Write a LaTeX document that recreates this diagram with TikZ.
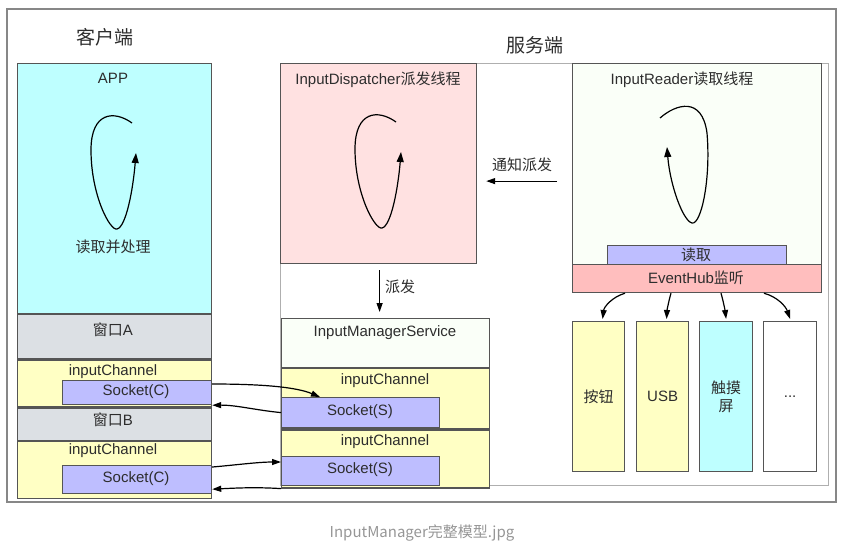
\documentclass[tikz,border=0pt]{standalone}
\usepackage{fontspec}
\setmainfont{Liberation Sans}
\newfontfamily\cjk{Noto Sans CJK SC}
\usetikzlibrary{calc, arrows.meta}

\definecolor{appCyan}{RGB}{190,255,255}
\definecolor{winGray}{RGB}{220,224,228}
\definecolor{chanYellow}{RGB}{255,255,196}
\definecolor{sockBlue}{RGB}{190,190,255}
\definecolor{dispPink}{RGB}{255,225,225}
\definecolor{hubPink}{RGB}{255,190,190}
\definecolor{paleWhite}{RGB}{250,255,248}
\definecolor{lineGray}{RGB}{85,85,85}
\definecolor{textDark}{RGB}{45,45,45}
\definecolor{frameGray}{RGB}{135,135,135}
\definecolor{serverGray}{RGB}{175,175,175}
\definecolor{captionGray}{RGB}{150,150,150}

\begin{document}
\begin{tikzpicture}[x=1pt, y=-1pt,
    box/.style={draw=lineGray, line width=1.2pt, rectangle, inner sep=0pt, anchor=north west},
    txt/.style={text=textDark, inner sep=0pt, font=\fontsize{15}{18}\selectfont},
    title/.style={text=textDark, inner sep=0pt, font=\fontsize{19}{22}\selectfont\cjk},
    flow/.style={-{Triangle[length=9pt,width=6pt]}, line width=1.2pt},
    cycle/.style={-{Triangle[length=10pt,width=7pt]}, line width=1.2pt}]

    \useasboundingbox (0,0) rectangle (856,558);

    % Frames
    \draw[line width=2pt, frameGray] (7,9) rectangle (836,502);
    \draw[line width=1pt, serverGray] (280,63) rectangle (828,485);

    \node[title] (client) at (105,37) {客户端};
    \node[title] (server) at (535,45) {服务端};

    % Client side
    \node[box, fill=appCyan, minimum width=194pt, minimum height=250pt] (app) at (17,63) {};
    \node[box, fill=winGray, minimum width=194pt, minimum height=44pt] (winA) at (app.south west) {};
    \node[box, fill=chanYellow, minimum width=194pt, minimum height=47pt] (chanA) at (winA.south west) {};
    \node[box, fill=sockBlue, minimum width=149pt, minimum height=24pt] (sockA) at (62,380) {};
    \node[box, fill=winGray, minimum width=194pt, minimum height=32pt] (winB) at (chanA.south west) {};
    \node[box, fill=chanYellow, minimum width=194pt, minimum height=57pt] (chanB) at (winB.south west) {};
    \node[box, fill=sockBlue, minimum width=149pt, minimum height=28pt] (sockB) at (62,465) {};

    \node[txt] (appT) at (113,78) {APP};
    \node[txt] (appLoopT) at (113,247) {\cjk 读取并处理};
    \node[txt] (winAT) at (113,330) {{\cjk 窗口}A};
    \node[txt] (chanAT) at (113,372) {inputChannel};
    \node[txt] (sockAT) at (136,392) {Socket(C)};
    \node[txt] (winBT) at (113,420) {{\cjk 窗口}B};
    \node[txt] (chanBT) at (113,451) {inputChannel};
    \node[txt] (sockBT) at (136,479) {Socket(C)};

    \draw[cycle] (132,123) .. controls (114,110) and (91,112) .. (91,150)
        .. controls (91,195) and (110,231) .. (117,229)
        .. controls (126,227) and (133,190) .. (136,153);

    % Dispatcher
    \node[box, fill=dispPink, minimum width=196pt, minimum height=200pt] (disp) at (280,63) {};
    \node[txt] (dispT) at (378,80) {InputDispatcher{\cjk 派发线程}};
    \draw[cycle] (396,122) .. controls (378,109) and (355,111) .. (355,149)
        .. controls (355,194) and (375,230) .. (382,228)
        .. controls (391,226) and (398,189) .. (401,152);

    % InputManagerService
    \node[box, fill=paleWhite, minimum width=208pt, minimum height=49pt] (ims) at (281,318) {};
    \node[box, fill=chanYellow, minimum width=208pt, minimum height=60pt] (chanS1) at (ims.south west) {};
    \node[box, fill=sockBlue, minimum width=158pt, minimum height=30pt] (sockS1) at (281,397) {};
    \node[box, fill=chanYellow, minimum width=208pt, minimum height=58pt] (chanS2) at (chanS1.south west) {};
    \node[box, fill=sockBlue, minimum width=158pt, minimum height=29pt] (sockS2) at (281,456) {};

    \node[txt] (imsT) at (385,333) {InputManagerService};
    \node[txt] (chanS1T) at (385,381) {inputChannel};
    \node[txt] (sockS1T) at (360,412) {Socket(S)};
    \node[txt] (chanS2T) at (385,442) {inputChannel};
    \node[txt] (sockS2T) at (360,470) {Socket(S)};

    % Reader
    \node[box, fill=paleWhite, minimum width=249pt, minimum height=229pt] (reader) at (572,63) {};
    \node[box, fill=sockBlue, minimum width=179pt, minimum height=19pt] (readBar) at (607,245) {};
    \node[box, fill=hubPink, minimum width=249pt, minimum height=28pt] (evh) at (572,264) {};
    \node[txt] (readerT) at (682,80) {InputReader{\cjk 读取线程}};
    \node[txt] (readBarT) at (696,255) {\cjk 读取};
    \node[txt] (evhT) at (696,278) {EventHub{\cjk 监听}};
    \draw[cycle] (660,118) .. controls (676,104) and (702,96) .. (707,133)
        .. controls (711,180) and (701,225) .. (692,223)
        .. controls (683,221) and (670,185) .. (667,147);

    % Devices
    \node[box, fill=chanYellow, minimum width=52pt, minimum height=150pt] (btn) at (572,321) {};
    \node[box, fill=chanYellow, minimum width=52pt, minimum height=150pt] (usb) at (636,321) {};
    \node[box, fill=appCyan, minimum width=53pt, minimum height=150pt] (touch) at (699,321) {};
    \node[box, fill=white, minimum width=53pt, minimum height=150pt] (more) at (763,321) {};
    \node[txt] (btnT) at (btn.center) {\cjk 按钮};
    \node[txt] (usbT) at (usb.center) {USB};
    \node[txt, align=center] (touchT) at (touch.center) {\cjk 触摸\\\cjk 屏};
    \node[txt] (moreT) at (more.center) {...};

    % Arrows
    \coordinate (notify) at ($(reader.west)+(-15,3)$);
    \draw[flow, shorten >=9pt] (notify) -- (notify -| disp.east);
    \node[txt] (notifyT) at (522,165) {\cjk 通知派发};

    \coordinate (dispOut) at ($(disp.south)+(1,0)$);
    \draw[flow, shorten <=6pt, shorten >=6pt] (dispOut) -- (dispOut |- ims.north);
    \node[txt] (dispatchT) at (400,287) {\cjk 派发};

    \draw[flow] ($(sockA.north east)+(0,4)$) .. controls (262,384) and (296,387) .. ($(sockS1.north west)+(39,0)$);
    \draw[flow] (sockS1.west) .. controls (255,410) and (236,405) .. (sockA.south east);
    \draw[flow] ($(sockB.north east)+(0,2)$) .. controls (236,465) and (258,462) .. ($(sockS2.north west)+(0,6)$);
    \draw[flow] (chanS2.south west) .. controls (256,487) and (236,488) .. ($(sockB.south east)+(0,-5)$);

    \draw[flow] ($(evh.south west)+(53,0)$) .. controls (612,297) and (604,307) .. ($(btn.north)+(4,-2)$);
    \draw[flow] ($(evh.south west)+(99,0)$) .. controls (669,300) and (667,310) .. ($(usb.north)+(4,-2)$);
    \draw[flow] ($(evh.south west)+(149,0)$) .. controls (723,300) and (725,310) .. ($(touch.north)+(0,-2)$);
    \draw[flow] ($(evh.south west)+(192,0)$) .. controls (778,297) and (786,307) .. ($(more.north)+(0,-2)$);

    \node[text=captionGray, inner sep=0pt, font=\fontsize{15}{18}\selectfont\cjk] (caption) at (422,533) {InputManager完整模型.jpg};
\end{tikzpicture}
\end{document}
